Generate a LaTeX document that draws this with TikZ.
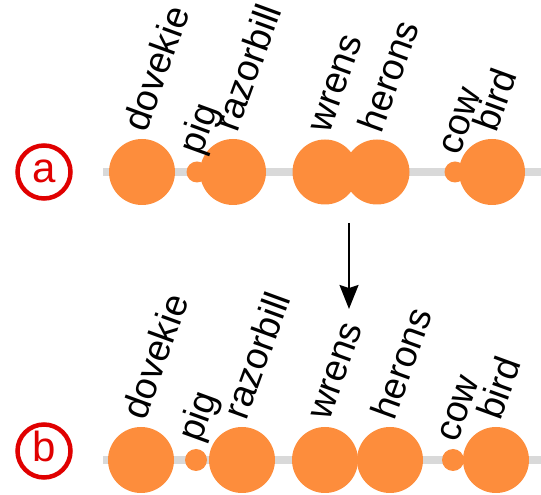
\documentclass[tikz,border=0pt]{standalone}
\usepackage{fontspec}
\setmainfont{Liberation Sans}
\usepackage{xcolor}
\usetikzlibrary{arrows.meta}
\usetikzlibrary{calc}
\definecolor{birdorange}{RGB}{253,141,60}
\definecolor{ringred}{RGB}{224,0,0}
\definecolor{axisgray}{RGB}{217,217,217}

\begin{document}
\begin{tikzpicture}[x=1pt,y=1pt,
  bubble/.style={circle,fill=birdorange,inner sep=0pt,minimum size=#1},
  lbl/.style={anchor=base west,rotate=70,inner sep=0pt,font=\fontsize{37.5}{40}\selectfont},
  ring/.style={circle,draw=ringred,line width=4.5pt,text=ringred,inner sep=0pt,minimum size=53pt,
    text height=22pt,text depth=0pt,font=\fontsize{42}{44}\selectfont}]
\useasboundingbox (0,0) rectangle (541,495);
% row a
\coordinate (la0) at (103,323);
\coordinate (la1) at (541,323);
\draw[axisgray,line width=8.5pt] (la0) -- (la1);
\node[ring] (ra) at (44,323) {a};
\foreach \n/\x/\d in {pig/197/21, dov/142/66, raz/233/66, wre/325/65, her/377/65, cow/455/21, bir/492/66}
    \node[bubble=\d] (\n a) at (\x,323) {};
\foreach \n/\t in {dov/dovekie, pig/pig, raz/razorbill, wre/wrens, her/herons, cow/cow, bir/bird}
    \node[lbl] (\n alab) at ([shift={(4,5)}]\n a.north) {\t};
% row b
\coordinate (lb0) at (103,35);
\coordinate (lb1) at (541,35);
\draw[axisgray,line width=8.5pt] (lb0) -- (lb1);
\node[ring] (rb) at (44,44) {b};
\foreach \n/\x/\d in {dov/141/66, pig/196/22, raz/242/66, wre/325/66, her/390/66, cow/453/22, bir/496/66}
    \node[bubble=\d] (\n b) at (\x,35) {};
\foreach \n/\t in {dov/dovekie, pig/pig, raz/razorbill, wre/wrens, her/herons, cow/cow, bir/bird}
    \node[lbl] (\n blab) at ([shift={(4,5)}]\n b.north) {\t};
% arrow
\coordinate (arrtop) at (349,272);
\coordinate (arrbot) at (349,186);
\draw[-{Stealth[length=24pt,width=19pt,inset=3pt]},line width=1.8pt] (arrtop) -- (arrbot);
\end{tikzpicture}
\end{document}
